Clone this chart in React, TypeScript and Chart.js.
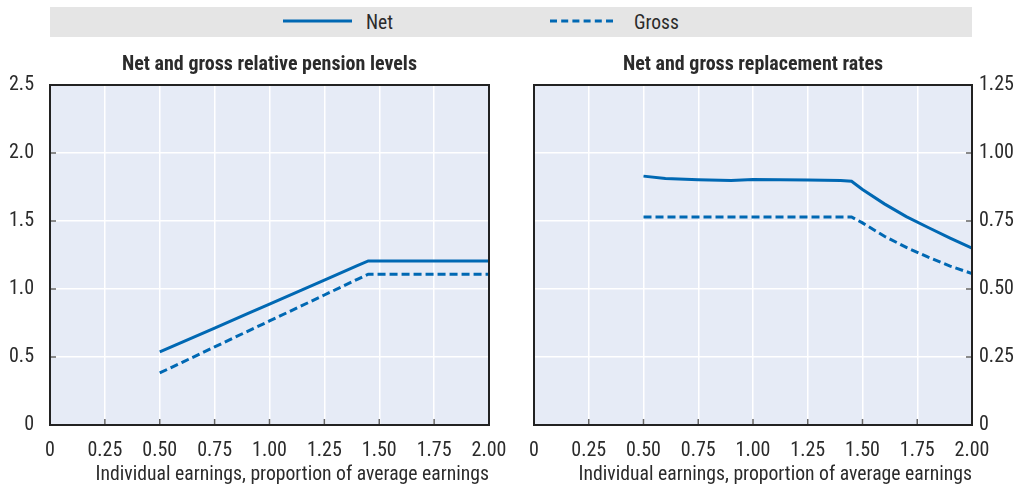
import React, { useEffect, useRef } from "react";
import { Chart, registerables } from "chart.js";

Chart.register(...registerables);

// ---------- data ----------
const earnings = [0.5, 0.6, 0.75, 0.9, 1.0, 1.25, 1.4, 1.45, 1.5, 1.6, 1.7, 1.8, 1.9, 2.0];
const netRelative = [0.537, 0.607, 0.713, 0.819, 0.889, 1.065, 1.171, 1.206, 1.206, 1.206, 1.206, 1.206, 1.206, 1.206];
const grossRelative = [0.383, 0.459, 0.574, 0.689, 0.765, 0.956, 1.071, 1.109, 1.109, 1.109, 1.109, 1.109, 1.109, 1.109];
const netReplacement = [0.915, 0.906, 0.902, 0.899, 0.903, 0.901, 0.899, 0.896, 0.866, 0.813, 0.766, 0.726, 0.687, 0.65];
const grossReplacement = [0.765, 0.765, 0.765, 0.765, 0.765, 0.765, 0.765, 0.765, 0.743, 0.694, 0.653, 0.617, 0.584, 0.557];

const seriesNames = ["Net", "Gross"];
const panelTitles = ["Net and gross relative pension levels", "Net and gross replacement rates"];
const xAxisTitle = "Individual earnings, proportion of average earnings";
const xTickLabels = ["0", "0.25", "0.50", "0.75", "1.00", "1.25", "1.50", "1.75", "2.00"];
const levelTickLabels = ["0", "0.5", "1.0", "1.5", "2.0", "2.5"];
const rateTickLabels = ["0", "0.25", "0.50", "0.75", "1.00", "1.25"];

// ---------- style ----------
const FONT = "'Liberation Sans Narrow', 'Roboto Condensed', 'Arial Narrow', Roboto, sans-serif";
const BLUE = "#0068b3";
const PLOT_BG = "#e6ebf6";
const TEXT = "#2b2b2b";
const TICK_SIZE = 20;

const framePlugin = {
  id: "frame",
  beforeDraw(chart: any) {
    const { ctx, chartArea } = chart;
    const { left, top, right, bottom } = chartArea;
    ctx.save();
    ctx.fillStyle = PLOT_BG;
    ctx.fillRect(left, top, right - left, bottom - top);
    ctx.restore();
  },
  afterDatasetsDraw(chart: any, _args: any, opts: any) {
    const { ctx, chartArea } = chart;
    const { left, top, right, bottom } = chartArea;
    const xs = chart.scales.x;
    const ys = chart.scales.y;
    ctx.save();
    ctx.strokeStyle = "#666";
    ctx.lineWidth = 1.5;
    ctx.beginPath();
    xs.ticks.forEach((t: any) => {
      const px = xs.getPixelForValue(t.value);
      ctx.moveTo(px, bottom);
      ctx.lineTo(px, bottom - 6);
    });
    ys.ticks.forEach((t: any) => {
      const py = ys.getPixelForValue(t.value);
      if (opts.side === "right") {
        ctx.moveTo(right, py);
        ctx.lineTo(right - 6, py);
      } else {
        ctx.moveTo(left, py);
        ctx.lineTo(left + 6, py);
      }
    });
    ctx.stroke();
    ctx.strokeStyle = "#222";
    ctx.lineWidth = 2;
    ctx.strokeRect(left, top, right - left, bottom - top);
    // panel title centred over plot area
    ctx.fillStyle = TEXT;
    ctx.font = `bold 20px ${FONT}`;
    ctx.textAlign = "center";
    ctx.textBaseline = "middle";
    ctx.fillText(opts.title, (left + right) / 2, top - 20);
    ctx.restore();
  },
};

function makeConfig(
  net: number[],
  gross: number[],
  yMax: number,
  yStep: number,
  yLabels: string[],
  side: "left" | "right",
  title: string
): any {
  return {
    type: "line",
    data: {
      datasets: [
        {
          label: seriesNames[0],
          data: earnings.map((x, i) => ({ x, y: net[i] })),
          borderColor: BLUE,
          borderWidth: 3,
          pointRadius: 0,
          tension: 0,
        },
        {
          label: seriesNames[1],
          data: earnings.map((x, i) => ({ x, y: gross[i] })),
          borderColor: BLUE,
          borderWidth: 3,
          borderDash: [8, 4],
          pointRadius: 0,
          tension: 0,
        },
      ],
    },
    options: {
      responsive: false,
      animation: false,
      layout: {
        padding: side === "left" ? { left: 0, right: 21, top: 45, bottom: 0 } : { left: 24, right: 0, top: 45, bottom: 0 },
      },
      plugins: {
        legend: { display: false },
        title: { display: false },
        tooltip: { enabled: false },
        frame: { side, title },
      },
      scales: {
        x: {
          type: "linear",
          min: 0,
          max: 2,
          afterBuildTicks: (s: any) => {
            s.ticks = xTickLabels.map((_, i) => ({ value: i * 0.25 }));
          },
          afterFit: (s: any) => {
            s.height = 62;
            s.paddingLeft = 0;
            s.paddingRight = 0;
          },
          ticks: {
            callback: (_v: any, i: number) => xTickLabels[i],
            color: TEXT,
            font: { family: FONT, size: TICK_SIZE },
            padding: 14,
            maxRotation: 0,
          },
          grid: { color: "#ffffff", lineWidth: 1.5, drawTicks: false },
          border: { display: false },
          title: {
            display: true,
            text: xAxisTitle,
            align: "end",
            color: TEXT,
            font: { family: FONT, size: 19.7 },
            padding: { top: 0, bottom: 0.5 },
          },
        },
        y: {
          type: "linear",
          position: side,
          min: 0,
          max: yMax,
          afterBuildTicks: (s: any) => {
            s.ticks = yLabels.map((_, i) => ({ value: i * yStep }));
          },
          afterFit: (s: any) => {
            s.width = side === "left" ? 50 : 51;
            s.paddingTop = 0;
            s.paddingBottom = 0;
          },
          ticks: {
            callback: (_v: any, i: number) => yLabels[i],
            color: TEXT,
            font: { family: FONT, size: TICK_SIZE },
            padding: side === "left" ? 16 : 7,
          },
          grid: { color: "#ffffff", lineWidth: 1.5, drawTicks: false },
          border: { display: false },
        },
      },
    },
    plugins: [framePlugin],
  };
}

function Panel(props: { left: number; width: number; config: any }) {
  const ref = useRef<HTMLCanvasElement | null>(null);
  useEffect(() => {
    if (!ref.current) return;
    const chart = new Chart(ref.current, props.config);
    return () => chart.destroy();
  }, []);
  return (
    <canvas
      ref={ref}
      width={props.width}
      height={447}
      style={{ position: "absolute", left: props.left, top: 40, width: props.width, height: 447 }}
    />
  );
}

function Legend() {
  return (
    <div
      style={{
        position: "absolute",
        left: 50,
        top: 7,
        width: 922,
        height: 30,
        background: "#e5e5e5",
        fontFamily: FONT,
        fontSize: 19.5,
        color: TEXT,
      }}
    >
      <svg width={922} height={30} style={{ position: "absolute", left: 0, top: 0 }}>
        <line x1={233} y1={14} x2={302} y2={14} stroke={BLUE} strokeWidth={3} />
        <line x1={500} y1={14} x2={563} y2={14} stroke={BLUE} strokeWidth={3} strokeDasharray="7 4.2" />
      </svg>
      <span style={{ position: "absolute", left: 316, top: 4, lineHeight: "24px" }}>{seriesNames[0]}</span>
      <span style={{ position: "absolute", left: 584, top: 4, lineHeight: "24px" }}>{seriesNames[1]}</span>
    </div>
  );
}

export default function App() {
  const leftCfg = makeConfig(netRelative, grossRelative, 2.5, 0.5, levelTickLabels, "left", panelTitles[0]);
  const rightCfg = makeConfig(netReplacement, grossReplacement, 1.25, 0.25, rateTickLabels, "right", panelTitles[1]);
  return (
    <div style={{ position: "absolute", left: 0, top: 0, width: 1023, height: 487, background: "#fff" }}>
      <Legend />
      <Panel left={0} width={510} config={leftCfg} />
      <Panel left={510} width={513} config={rightCfg} />
    </div>
  );
}
